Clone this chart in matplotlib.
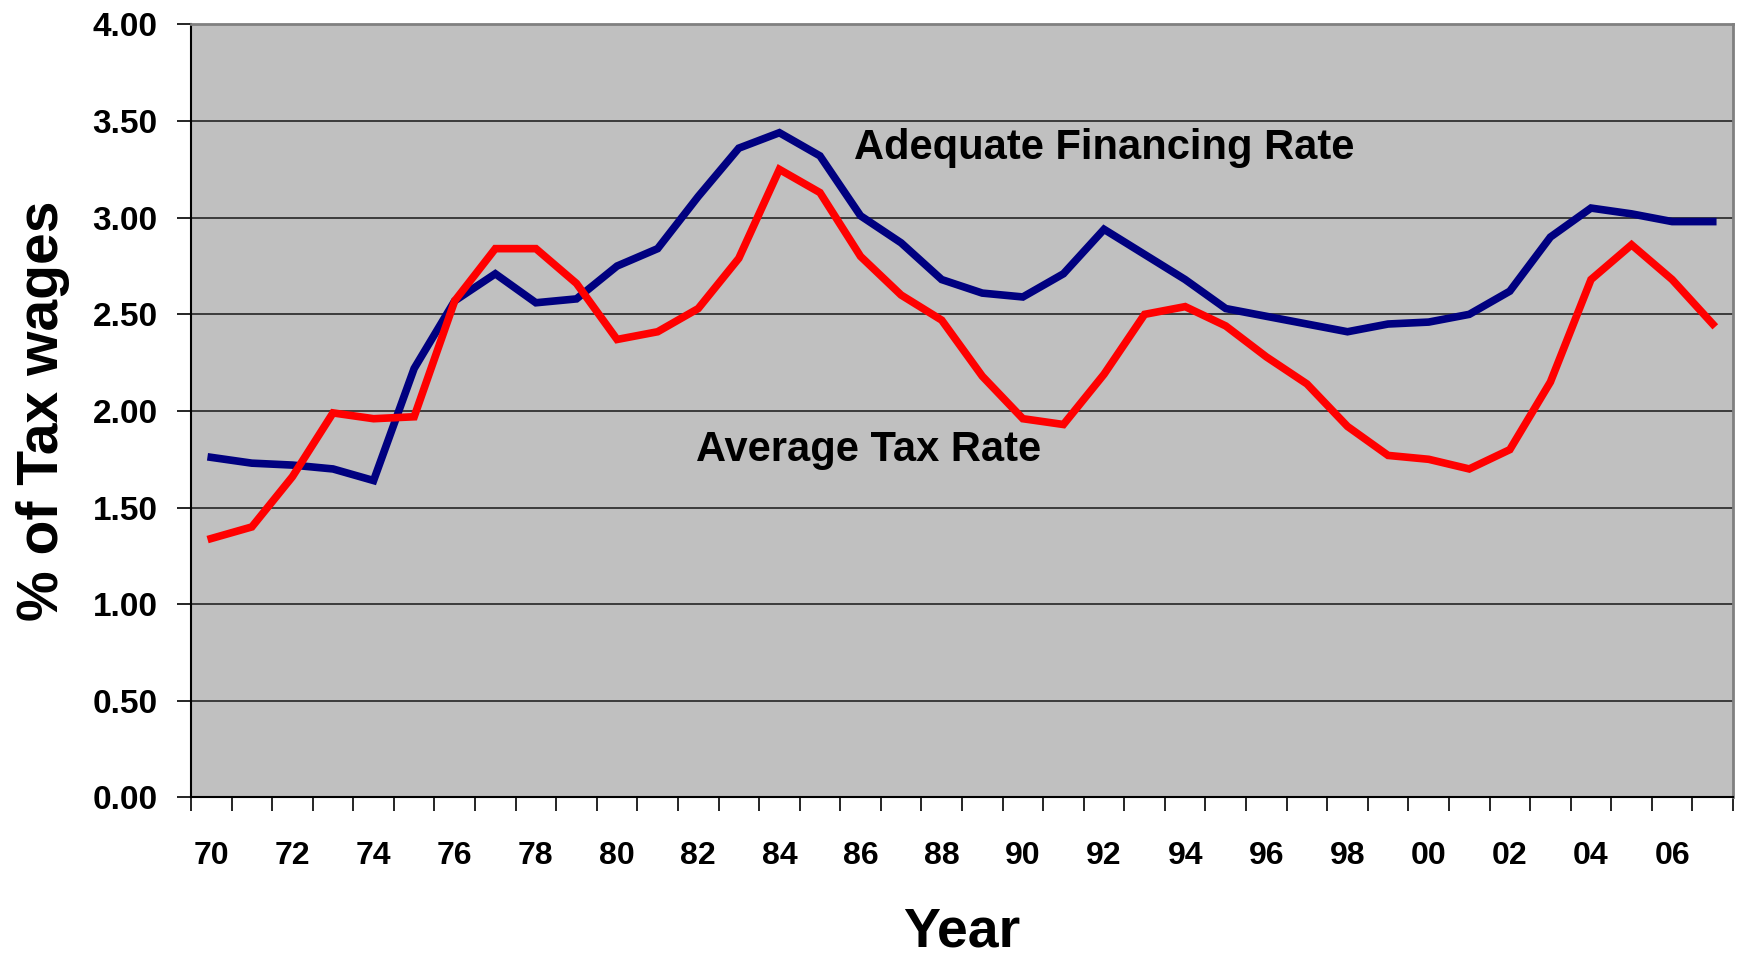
import matplotlib.pyplot as plt
from matplotlib.ticker import FixedLocator, NullFormatter

plt.rcParams['font.family'] = ['Liberation Sans', 'DejaVu Sans']

years = list(range(1970, 2008))
tick_labels = [f'{y % 100:02d}' for y in years]

# Adequate Financing Rate
adequate = [1.76, 1.73, 1.72, 1.70, 1.64, 2.22, 2.57, 2.71, 2.56, 2.58,
            2.75, 2.84, 3.11, 3.36, 3.44, 3.32, 3.01, 2.87, 2.68, 2.61,
            2.59, 2.71, 2.94, 2.81, 2.68, 2.53, 2.49, 2.45, 2.41, 2.45,
            2.46, 2.50, 2.62, 2.90, 3.05, 3.02, 2.98, 2.98]

# Average Tax Rate
average = [1.34, 1.40, 1.66, 1.99, 1.96, 1.97, 2.57, 2.84, 2.84, 2.66,
           2.37, 2.41, 2.53, 2.79, 3.25, 3.13, 2.80, 2.60, 2.47, 2.18,
           1.96, 1.93, 2.19, 2.50, 2.54, 2.44, 2.28, 2.14, 1.92, 1.77,
           1.75, 1.70, 1.80, 2.15, 2.68, 2.86, 2.68, 2.45]

fig = plt.figure(figsize=(17.44, 9.6), dpi=100)
ax = fig.add_axes([0.1095, 0.1693, 0.8842, 0.8052])
ax.set_facecolor('#C0C0C0')

x = list(range(len(years)))
ax.plot(x, adequate, color='#000080', linewidth=5.5, solid_joinstyle='miter', zorder=3)
ax.plot(x, average, color='#FF0000', linewidth=5.5, solid_joinstyle='miter', zorder=3)

ax.set_xlim(-0.5, len(years) - 0.5)
ax.set_ylim(0, 4)

# y axis
yt = [i * 0.5 for i in range(9)]
ax.set_yticks(yt)
ax.set_yticklabels([f'{v:.2f}' for v in yt], fontsize=24, fontweight='bold')
ax.tick_params(axis='y', length=10, width=1.2, pad=14, color='black')
ax.grid(axis='y', color='#303030', linewidth=1.3, zorder=1)

# x axis: ticks between categories, labels every 2 years
ax.xaxis.set_major_locator(FixedLocator([i - 0.5 for i in range(len(years) + 1)]))
ax.xaxis.set_major_formatter(NullFormatter())
ax.xaxis.set_minor_locator(FixedLocator(x[::2]))
ax.set_xticklabels(tick_labels[::2], minor=True, fontsize=23, fontweight='bold')
ax.tick_params(axis='x', which='major', length=10, width=1.2, color='black')
ax.tick_params(axis='x', which='minor', length=0, pad=31)

for s in ['top', 'right']:
    ax.spines[s].set_color('#808080')
    ax.spines[s].set_linewidth(2)
for s in ['left', 'bottom']:
    ax.spines[s].set_color('black')
    ax.spines[s].set_linewidth(1.5)

ax.set_xlabel('Year', fontsize=40, fontweight='bold', labelpad=26)
ax.set_ylabel('% of Tax wages', fontsize=41, fontweight='bold', labelpad=16)

ax.text(22, 3.36, 'Adequate Financing Rate', fontsize=30, fontweight='bold',
        ha='center', va='center', zorder=4)
ax.text(16.2, 1.80, 'Average Tax Rate', fontsize=30, fontweight='bold',
        ha='center', va='center', zorder=4)

fig.savefig('out.png', dpi=100)
